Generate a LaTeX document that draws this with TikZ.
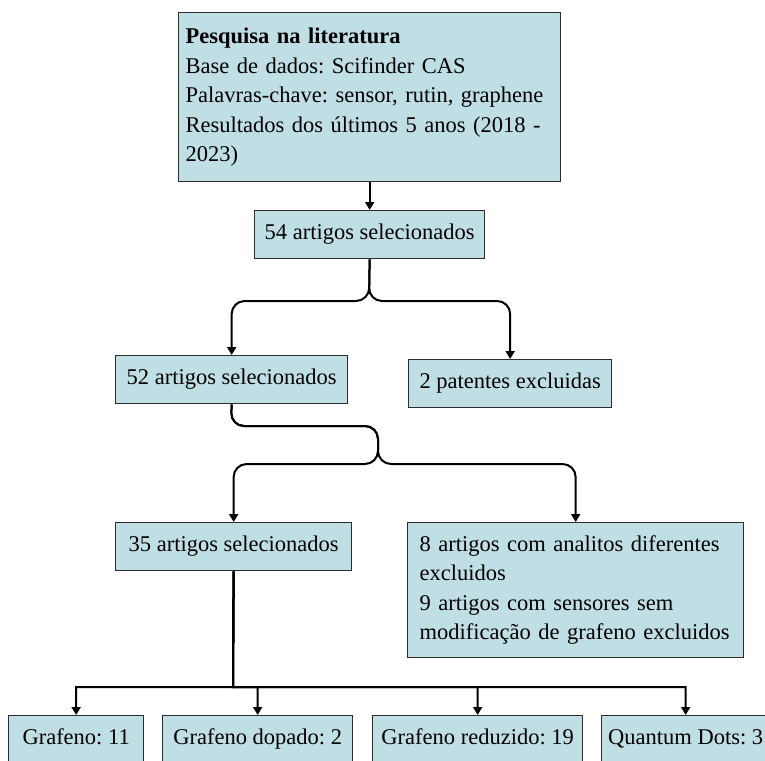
\documentclass[tikz,border=0pt]{standalone}
\usepackage{fontspec}
\setmainfont{Liberation Serif}
\usetikzlibrary{arrows.meta}
\definecolor{boxfill}{RGB}{192,223,228}
\definecolor{boxline}{RGB}{45,45,45}
\frenchspacing
\begin{document}
\begin{tikzpicture}[x=1pt,y=-1pt,
  box/.style={draw=boxline, line width=1.3pt, fill=boxfill, inner xsep=0pt, inner ysep=0pt,
              anchor=north west, font=\fontsize{22.5}{29.5}\selectfont\frenchspacing, align=center},
  sbox/.style={box, text height=15.5pt, text depth=5pt, minimum height=48pt},
  tbox/.style={box, align=left},
  conn/.style={line width=2pt, draw=black, -{Triangle[width=9pt,length=8pt]}},
  brace/.style={conn, rounded corners=13pt}]
\useasboundingbox (0,0) rectangle (765,760);

\node[tbox, text width=368pt, inner xsep=7pt, minimum height=169pt] (lit) at (178,12)
  {\textbf{Pesquisa na literatura}\\Base de dados: Scifinder CAS\\Palavras-chave: sensor, rutin, graphene\\Resultados dos últimos 5 anos (2018 -\\2023)};
\node[sbox, minimum width=230pt] (s54) at (254,210) {54 artigos selecionados};
\node[sbox, minimum width=232pt] (s52) at (115,355) {52 artigos selecionados};
\node[sbox, minimum width=203pt] (pat) at (408,359) {2 patentes excluidas};
\node[sbox, minimum width=236pt] (s35) at (115,522) {35 artigos selecionados};
\node[tbox, text width=312pt, inner xsep=12pt, minimum height=135pt] (exc) at (407,522)
  {8 artigos com analitos diferentes\\excluidos\\9 artigos com sensores sem\\modificação de grafeno excluidos};
\node[sbox, minimum width=135pt] (g1) at (8,715) {Grafeno: 11};
\node[sbox, minimum width=190pt] (g2) at (162,715) {Grafeno dopado: 2};
\node[sbox, minimum width=210pt] (g3) at (372,715) {Grafeno reduzido: 19};
\node[sbox, minimum width=168pt] (g4) at (601,715) {Quantum Dots: 3};

\coordinate (j1) at (369,301);
\coordinate (j2) at (231,426);
\coordinate (j3) at (378,426);
\coordinate (j4) at (378,464);
\coordinate (j5) at (233,687);

\draw[conn] (lit.south) -- (s54.north);
\draw[brace] (s54.south) -- (j1) -| (s52.north);
\draw[brace] (s54.south) -- (j1) -| (pat.north);
\draw[brace] (s52.south) -- (j2) -- (j3) -- (j4) -| (s35.north);
\draw[brace] (s52.south) -- (j2) -- (j3) -- (j4) -| (exc.north);
\draw[conn] (s35.south) -- (j5) -| (g1.north);
\draw[conn] (s35.south) -- (j5) -| (g2.north);
\draw[conn] (s35.south) -- (j5) -| (g3.north);
\draw[conn] (s35.south) -- (j5) -| (g4.north);
\end{tikzpicture}
\end{document}
